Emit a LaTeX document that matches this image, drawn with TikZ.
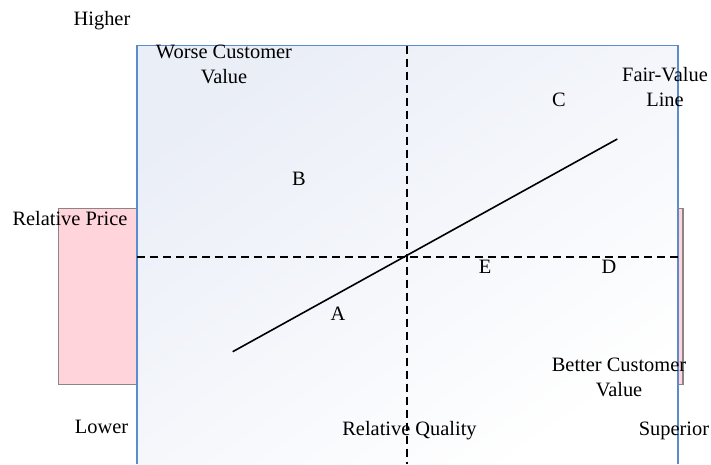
\documentclass[tikz,border=0pt]{standalone}
\usepackage{fontspec}
\setmainfont{Liberation Serif}
\definecolor{pinkfill}{RGB}{255,212,218}
\definecolor{pinkedge}{RGB}{140,132,134}
\definecolor{boxedge}{RGB}{91,141,205}
\definecolor{boxtop}{RGB}{234,238,247}
\begin{document}
\begin{tikzpicture}[x=1pt,y=-1pt,
  lbl/.style={font=\fontsize{20.4}{25}\selectfont, inner sep=0pt, align=center, anchor=base},
  pinkbox/.style={fill=pinkfill, draw=pinkedge, line width=1.3pt},
  axisline/.style={line width=1.8pt, dash pattern=on 8pt off 5pt},
  valueline/.style={line width=1.6pt}]
\useasboundingbox (0,0) rectangle (711,464);
% pink side boxes
\path[pinkbox] (58.5,208.5) rectangle (137,384.5);
\path[pinkbox] (678,208.5) rectangle (683,384.5);
% main quadrant box
\shade[top color=boxtop, bottom color=white, shading angle=35] (137,45.5) rectangle (678,464);
\draw[boxedge, line width=1.3pt] (137,464) -- (137,45.5) -- (678,45.5) -- (678,464);
% axes
\coordinate (vtop) at (407,45.5);
\coordinate (vbot) at (407,464);
\coordinate (hleft) at (137,257.3);
\coordinate (hright) at (678,257.3);
\draw[axisline] (vtop) -- (vbot);
\draw[axisline] (hleft) -- (hright);
% fair value line
\coordinate (fvstart) at (232.7,351.7);
\coordinate (fvend) at (617.3,139);
\draw[valueline] (fvstart) -- (fvend);
% labels
\node[lbl] (higher) at (102,25) {Higher};
\node[lbl] (rprice) at (70,225) {Relative Price};
\node[lbl] (worse) at (224,83) {Worse Customer\\Value};
\node[lbl] (fair) at (665,106.7) {Fair-Value\\Line};
\node[lbl] (C) at (559,106.7) {C};
\node[lbl] (B) at (299,185) {B};
\node[lbl] (A) at (338,320) {A};
\node[lbl] (E) at (485,273.3) {E};
\node[lbl] (D) at (609,273.3) {D};
\node[lbl] (better) at (619,396.7) {Better Customer\\Value};
\node[lbl] (lower) at (101.5,433.3) {Lower};
\node[lbl] (rquality) at (409.5,435) {Relative Quality};
\node[lbl] (superior) at (674,435) {Superior};
\end{tikzpicture}
\end{document}
